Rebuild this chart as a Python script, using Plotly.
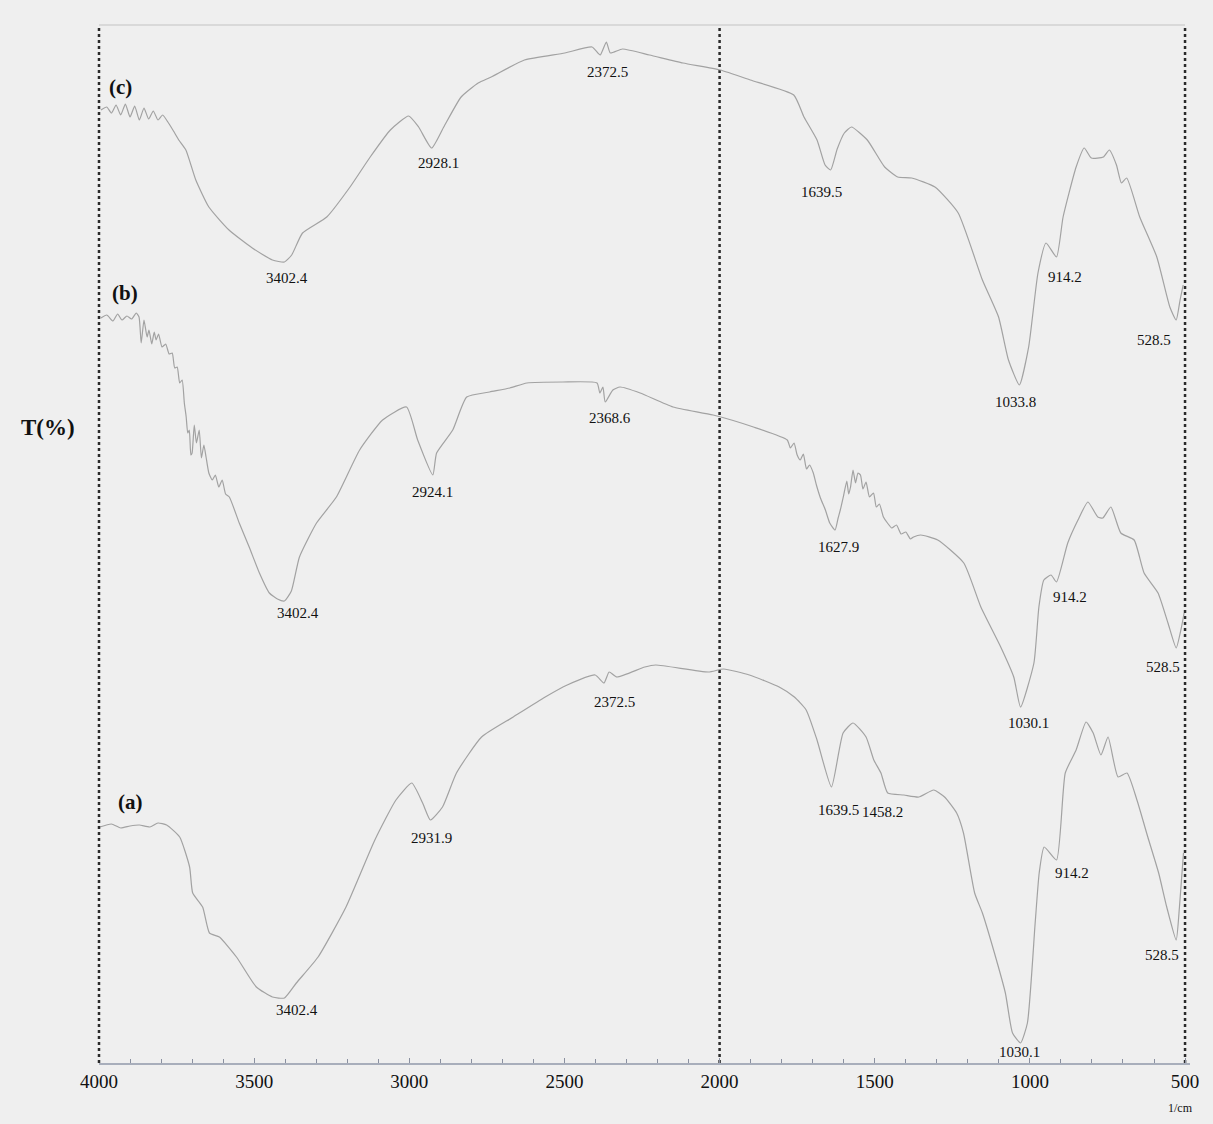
import plotly.graph_objects as go

# ---------------- data (wavenumber in 1/cm, transmittance in arbitrary offset %) -------------
wn_c = [3994, 3975, 3960, 3945, 3930, 3915, 3900, 3885, 3870, 3855, 3840, 3825, 3810, 3795,
        3776, 3760, 3743, 3720, 3688, 3646, 3581, 3506, 3441, 3402.4, 3379, 3344, 3266, 3191,
        3126, 3061, 3002, 2970, 2928.1, 2889, 2833, 2778, 2736, 2629, 2499, 2411, 2385, 2365,
        2352, 2313, 2226, 2118, 1998, 1901, 1761, 1728, 1686, 1660, 1642, 1621, 1598, 1575,
        1524, 1468, 1426, 1381, 1306, 1231, 1153, 1101, 1069, 1033.8, 1004, 974, 948, 914.2,
        893, 851, 825, 802, 763, 744, 721, 705, 688, 646, 591, 549, 528.5, 516, 506]
t_c = [95.3, 95.6, 95.0, 95.8, 94.8, 95.9, 94.6, 95.7, 94.3, 95.5, 94.4, 95.2, 94.3, 94.8,
       94.0, 93.2, 92.3, 91.3, 88.3, 85.6, 83.3, 81.5, 80.3, 80.1, 80.8, 83.0, 84.6, 87.6,
       90.6, 93.3, 94.7, 93.6, 91.5, 93.6, 96.6, 98.0, 98.6, 100.3, 101.0, 101.6, 100.8, 102.1,
       101.0, 101.4, 100.8, 100.0, 99.3, 98.3, 96.8, 94.6, 92.3, 89.8, 89.3, 91.4, 93.0, 93.6,
       92.3, 89.6, 88.6, 88.5, 87.6, 85.0, 78.3, 74.6, 70.3, 67.8, 71.6, 79.0, 82.0, 80.6,
       84.6, 89.6, 91.5, 90.5, 90.6, 91.3, 89.8, 88.0, 88.5, 84.6, 80.6, 75.6, 74.3, 76.3, 77.8]

wn_b = [3994, 3975, 3955, 3940, 3926, 3910, 3895, 3880, 3871, 3864, 3855, 3845, 3839, 3830,
        3822, 3816, 3808, 3797, 3785, 3774, 3764, 3756, 3748, 3740, 3732, 3725, 3719, 3714,
        3709, 3704, 3700, 3693, 3686, 3677, 3670, 3662, 3655, 3646, 3635, 3625, 3614, 3603,
        3592, 3580, 3548, 3516, 3483, 3451, 3425, 3402.4, 3380, 3354, 3299, 3235, 3160, 3086,
        3009, 2973, 2924.1, 2912, 2860, 2815, 2741, 2676, 2621, 2505, 2395, 2386, 2376, 2368.6,
        2344, 2321, 2256, 2150, 2021, 1891, 1782, 1772, 1760, 1750, 1740, 1730, 1720, 1710,
        1698, 1688, 1675, 1659, 1645, 1627.9, 1618, 1611, 1600, 1590, 1584, 1578, 1570, 1562,
        1554, 1546, 1538, 1528, 1517, 1504, 1495, 1485, 1472, 1459, 1445, 1430, 1415, 1400,
        1385, 1375, 1352, 1297, 1213, 1158, 1094, 1052, 1030.1, 987, 971, 955, 932, 914.2,
        878, 845, 813, 781, 765, 739, 707, 664, 632, 587, 555, 528.5, 512, 503]
t_b = [74.5, 74.8, 74.2, 74.9, 74.3, 74.7, 74.4, 75.0, 74.6, 72.0, 74.3, 72.6, 73.3, 71.9,
       73.1, 72.3, 72.9, 71.6, 71.9, 70.9, 71.0, 69.5, 69.6, 68.0, 68.3, 66.0, 64.6, 63.0,
       63.3, 60.8, 61.0, 63.8, 62.0, 63.3, 60.5, 61.8, 60.6, 59.0, 58.3, 58.8, 57.6, 58.3,
       56.9, 56.6, 54.0, 51.6, 49.0, 47.0, 46.4, 46.2, 47.2, 50.6, 54.0, 56.6, 61.3, 64.3,
       65.6, 62.3, 58.8, 61.0, 63.3, 66.6, 67.1, 67.5, 68.0, 68.1, 68.0, 67.0, 67.6, 66.1,
       67.3, 67.6, 67.0, 65.6, 64.8, 63.6, 62.3, 61.5, 62.0, 60.8, 60.3, 60.9, 59.4, 59.8,
       59.0, 57.8, 56.5, 55.3, 54.0, 53.3, 54.5, 55.3, 56.8, 58.2, 56.9, 57.6, 59.3, 58.0,
       59.0, 58.8, 57.4, 58.1, 56.6, 57.0, 55.6, 55.9, 54.6, 54.0, 53.5, 53.8, 52.9, 53.1,
       52.4, 52.6, 52.8, 52.3, 50.0, 45.6, 41.6, 38.6, 35.6, 40.0, 45.6, 48.3, 48.8, 48.1,
       52.0, 54.3, 56.1, 54.6, 54.5, 55.6, 53.0, 52.3, 49.0, 47.0, 44.0, 41.5, 43.5, 45.0]

wn_a = [3997, 3960, 3930, 3900, 3870, 3836, 3810, 3782, 3740, 3708, 3698, 3666, 3644, 3612,
        3557, 3493, 3441, 3402.4, 3364, 3294, 3204, 3111, 3043, 2992, 2957, 2931.9, 2893,
        2848, 2767, 2665, 2562, 2491, 2401, 2372.5, 2356, 2331, 2241, 2206, 2036, 1987, 1904,
        1808, 1759, 1721, 1686, 1639.5, 1602, 1570, 1528, 1503, 1480, 1458.2, 1406, 1358,
        1310, 1275, 1236, 1214, 1178, 1153, 1117, 1079, 1056, 1030.1, 1008, 983, 970, 954,
        914.2, 886, 851, 819, 796, 771, 748, 716, 687, 655, 620, 585, 559, 528.5, 518, 505]
t_a = [23.6, 23.9, 23.5, 23.7, 23.8, 23.6, 24.0, 23.8, 22.6, 19.6, 17.0, 15.6, 13.0, 12.6,
       10.6, 7.6, 6.6, 6.5, 8.0, 10.6, 15.6, 22.3, 26.3, 28.0, 26.0, 24.3, 25.6,
       29.0, 32.6, 34.6, 36.6, 37.8, 38.8, 38.0, 39.1, 38.6, 39.6, 39.8, 39.1, 39.4, 38.8,
       37.6, 36.6, 35.3, 32.3, 27.6, 33.0, 34.0, 32.6, 30.3, 29.0, 27.0, 26.8, 26.6,
       27.3, 26.6, 25.0, 23.0, 17.0, 15.0, 11.3, 7.0, 3.0, 2.0, 4.0, 14.0, 19.0, 21.6,
       20.3, 29.0, 31.3, 34.1, 33.0, 30.8, 32.6, 28.6, 29.0, 26.3, 22.6, 19.0, 15.6, 12.3, 15.6, 21.0]

# peak labels: (text, wavenumber position, T position)
labels_c = [("3402.4", 3394, 78.5), ("2928.1", 2907, 90.0), ("2372.5", 2360, 99.1),
            ("1639.5", 1670, 87.1), ("1033.8", 1045, 66.1), ("914.2", 887, 78.6),
            ("528.5", 600, 72.3)]
labels_b = [("3402.4", 3359, 45.0), ("2924.1", 2924, 57.1), ("2368.6", 2353, 64.5),
            ("1627.9", 1618, 51.6), ("1030.1", 1006, 34.0), ("914.2", 870, 46.6),
            ("528.5", 571, 39.6)]
labels_a = [("3402.4", 3362, 5.3), ("2931.9", 2927, 22.5), ("2372.5", 2340, 36.1),
            ("1639.5", 1618, 25.3), ("1458.2", 1476, 25.1), ("1030.1", 1032, 1.1),
            ("914.2", 864, 19.0), ("528.5", 574, 10.8)]
series_tags = [("(c)", 3932, 97.6), ("(b)", 3916, 77.0), ("(a)", 3900, 26.1)]

x_ticks = [4000, 3500, 3000, 2500, 2000, 1500, 1000, 500]
inner_frame_lines = [2000, 500]

# ---------------- figure -------------
BG = "#efefef"
LINE = "#a2a2a2"
SERIF = "Liberation Serif, Times New Roman, serif"
DOT = dict(color="#2a2a2a", width=2.5, dash="dot")

fig = go.Figure()
for name, xs, ys in [("(c)", wn_c, t_c), ("(b)", wn_b, t_b), ("(a)", wn_a, t_a)]:
    fig.add_trace(go.Scatter(x=xs, y=ys, mode="lines", name=name,
                             line=dict(color=LINE, width=1.2, shape="spline", smoothing=0.5),
                             showlegend=False, hoverinfo="skip"))

# left frame (at the plot edge, drawn in paper coords so it is not clipped)
fig.add_shape(type="line", xref="paper", yref="paper", x0=0, x1=0, y0=0, y1=1,
              line=DOT, layer="above")
for xv in inner_frame_lines:
    fig.add_shape(type="line", xref="x", yref="paper", x0=xv, x1=xv, y0=0, y1=1,
                  line=DOT, layer="below")
fig.add_shape(type="line", xref="x", yref="paper", x0=4000, x1=500, y0=1, y1=1,
              line=dict(color="#c4c4c4", width=1.2), layer="below")

for lab_list in (labels_c, labels_b, labels_a):
    for txt, xv, yv in lab_list:
        fig.add_annotation(x=xv, y=yv, text=txt, showarrow=False,
                           xanchor="center", yanchor="middle",
                           font=dict(family=SERIF, size=15, color="#111"))
for txt, xv, yv in series_tags:
    fig.add_annotation(x=xv, y=yv, text="<b>" + txt + "</b>", showarrow=False,
                       xanchor="center", yanchor="middle",
                       font=dict(family=SERIF, size=21, color="#111"))

fig.add_annotation(xref="paper", yref="paper", x=-0.047, y=0.612, text="<b>T(%)</b>",
                   showarrow=False, xanchor="center", yanchor="middle",
                   font=dict(family=SERIF, size=23, color="#111"))
fig.add_annotation(xref="paper", yref="paper", x=0.991, y=-0.043, text="1/cm",
                   showarrow=False, xanchor="center", yanchor="middle",
                   font=dict(family=SERIF, size=12, color="#111"))

fig.update_layout(
    width=1213, height=1124,
    margin=dict(l=99, r=23, t=25, b=61),
    paper_bgcolor=BG, plot_bgcolor=BG,
    xaxis=dict(range=[4000, 484], tickvals=x_ticks, ticktext=[str(v) for v in x_ticks],
               showgrid=False, zeroline=False, showline=True, linecolor="#a8aebb",
               linewidth=1.5, ticks="inside", ticklen=5, tickcolor="#8a90a0",
               tickfont=dict(family=SERIF, size=19, color="#111"),
               minor=dict(dtick=100, tick0=0, ticks="inside", ticklen=4, tickcolor="#8a90a0")),
    yaxis=dict(range=[0, 103.8], visible=False, showgrid=False, zeroline=False),
)

fig.write_html("out.html", config={"displayModeBar": False},
               post_script="document.body.style.margin='0';document.body.style.background='#efefef';")
